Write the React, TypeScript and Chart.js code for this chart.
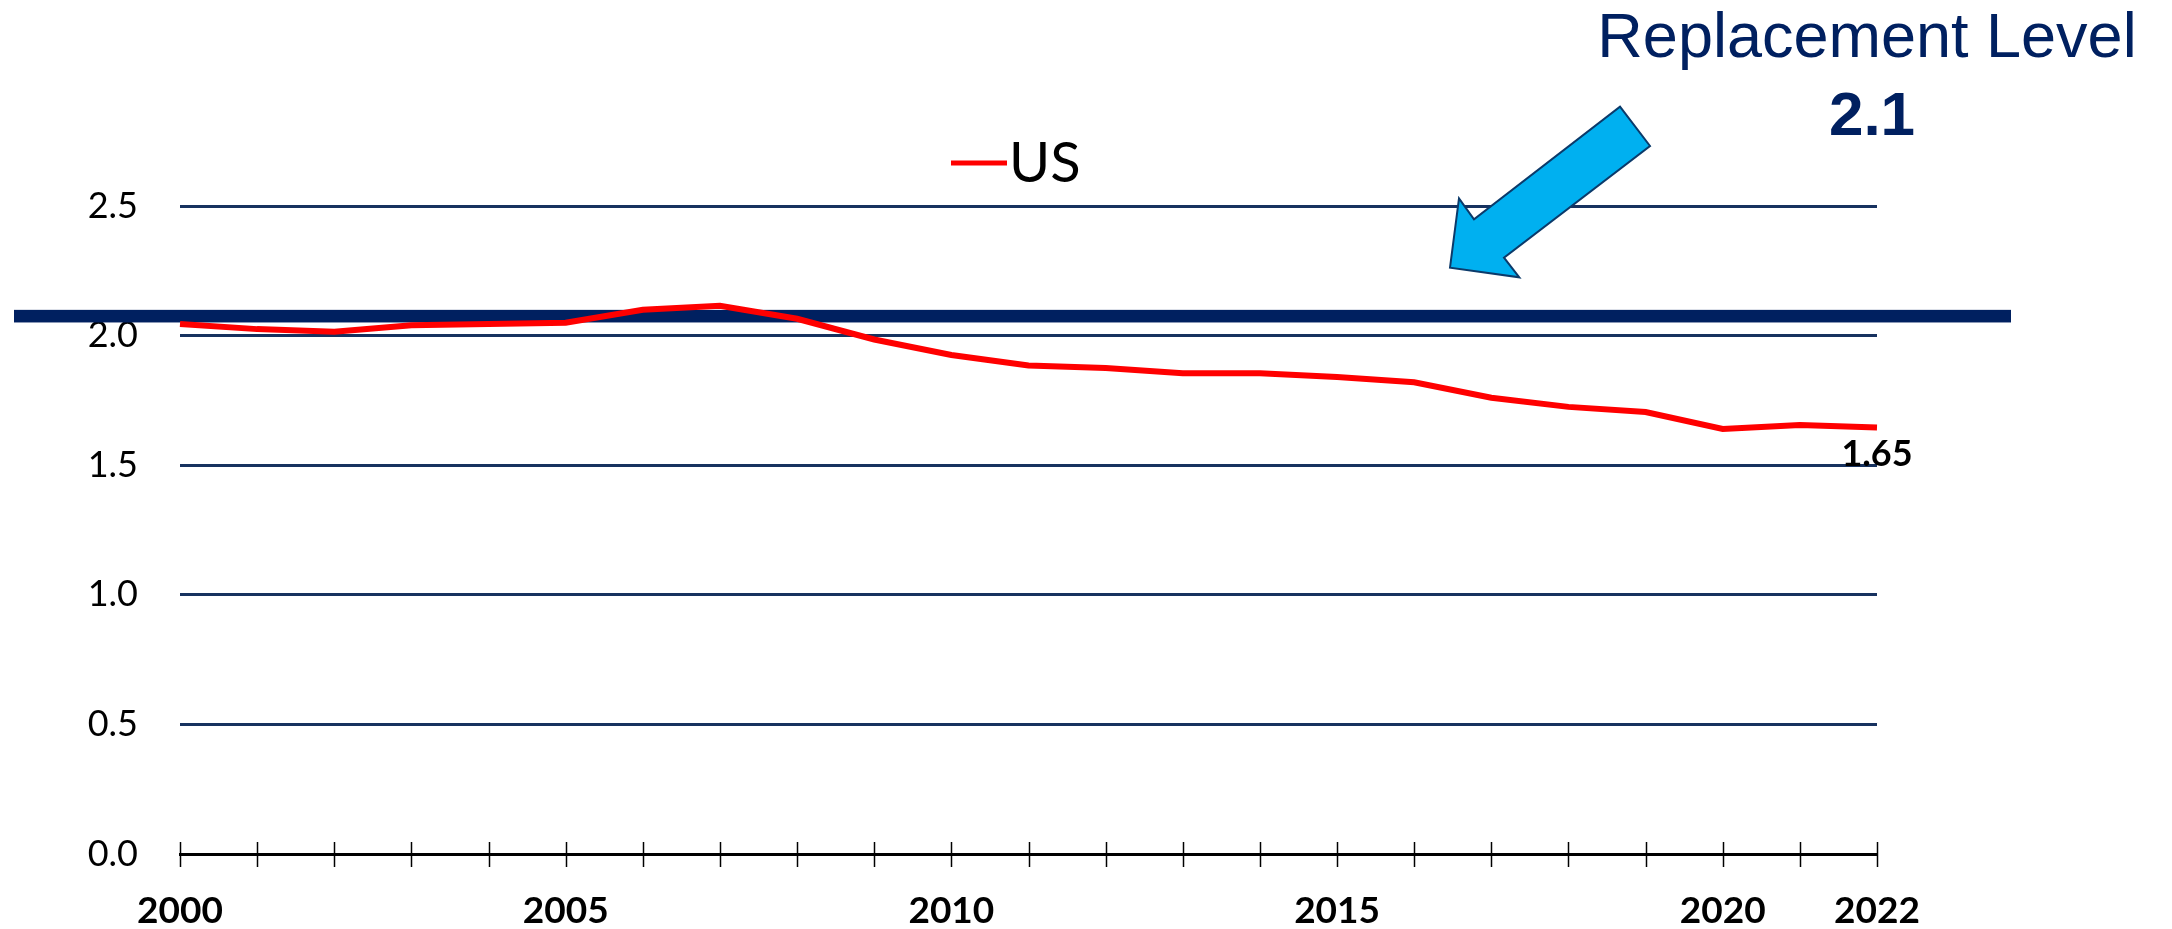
import React, { useEffect, useRef } from "react";
import { Chart, registerables } from "chart.js";

Chart.register(...registerables);

// ---------- data ----------
const years: string[] = [
  "2000", "2001", "2002", "2003", "2004", "2005", "2006", "2007", "2008", "2009", "2010",
  "2011", "2012", "2013", "2014", "2015", "2016", "2017", "2018", "2019", "2020", "2021", "2022",
];
const usFertility: number[] = [
  2.045, 2.025, 2.015, 2.04, 2.045, 2.05, 2.10, 2.115, 2.065, 1.985, 1.925,
  1.885, 1.875, 1.855, 1.855, 1.84, 1.82, 1.76, 1.725, 1.705, 1.64, 1.655, 1.645,
];
const labelledYears: string[] = ["2000", "2005", "2010", "2015", "2020", "2022"];
const yTickValues: number[] = [0, 0.5, 1.0, 1.5, 2.0, 2.5];
const seriesName = "US";
const replacementLineValue = 2.075; // where the thick band is drawn
const replacementTitle = "Replacement Level";
const replacementValueText = "2.1";
const lastValueText = "1.65";

// ---------- styles ----------
const NAVY = "#002060";
const GRID = "#17325F";
const RED = "#FF0000";
const ARROW_FILL = "#00B0F0";
const ARROW_EDGE = "#0B3A6A";

const decorPlugin = {
  id: "decor",
  beforeDatasetsDraw(chart: any) {
    const { ctx } = chart;
    const y = chart.scales.y.getPixelForValue(replacementLineValue);
    ctx.save();
    ctx.fillStyle = NAVY;
    ctx.fillRect(14, y - 6.3, 2011 - 14, 12.6);
    ctx.restore();
  },
  afterDraw(chart: any) {
    const { ctx, chartArea } = chart;
    const xs = chart.scales.x;
    ctx.save();
    // tick marks crossing the x axis
    ctx.strokeStyle = "#000";
    ctx.lineWidth = 1.5;
    years.forEach((_, i) => {
      const x = Math.round(xs.getPixelForValue(i)) + 0.5;
      ctx.beginPath();
      ctx.moveTo(x, chartArea.bottom - 12);
      ctx.lineTo(x, chartArea.bottom + 13);
      ctx.stroke();
    });

    // label of last value
    const meta = chart.getDatasetMeta(0);
    const last = meta.data[meta.data.length - 1];
    ctx.fillStyle = "#000";
    ctx.font = "bold 36px Lato";
    ctx.textAlign = "center";
    ctx.textBaseline = "alphabetic";
    ctx.fillText(lastValueText, last.x, last.y + 38);

    // legend
    ctx.strokeStyle = RED;
    ctx.lineWidth = 5;
    ctx.beginPath();
    ctx.moveTo(951, 163);
    ctx.lineTo(1007, 163);
    ctx.stroke();
    ctx.fillStyle = "#000";
    ctx.font = "56px Lato";
    ctx.textAlign = "left";
    ctx.fillText(chart.data.datasets[0].label, 1009, 182);

    // replacement level annotation
    ctx.fillStyle = NAVY;
    ctx.textAlign = "center";
    ctx.font = "63px 'Liberation Sans'";
    ctx.fillText(replacementTitle, 1867, 57);
    ctx.font = "bold 62px 'Liberation Sans'";
    ctx.fillText(replacementValueText, 1872, 135);

    // arrow
    ctx.beginPath();
    ctx.moveTo(1620, 106.7);
    ctx.lineTo(1650, 146);
    ctx.lineTo(1504, 257.7);
    ctx.lineTo(1519.3, 277.3);
    ctx.lineTo(1450, 267.7);
    ctx.lineTo(1459, 198.3);
    ctx.lineTo(1474, 219.3);
    ctx.closePath();
    ctx.fillStyle = ARROW_FILL;
    ctx.fill();
    ctx.strokeStyle = ARROW_EDGE;
    ctx.lineWidth = 2;
    ctx.lineJoin = "miter";
    ctx.stroke();
    ctx.restore();
  },
};

export default function App() {
  const canvasRef = useRef<HTMLCanvasElement | null>(null);

  useEffect(() => {
    document.body.style.margin = "0";
    document.body.style.overflow = "hidden";
    const canvas = canvasRef.current;
    if (!canvas) return;
    const chart = new Chart(canvas, {
      type: "line",
      data: {
        labels: years,
        datasets: [
          {
            label: seriesName,
            data: usFertility,
            borderColor: RED,
            backgroundColor: RED,
            borderWidth: 6,
            pointRadius: 0,
            tension: 0,
            fill: false,
          },
        ],
      },
      options: {
        animation: false,
        responsive: false,
        devicePixelRatio: 1,
        layout: { padding: { top: 206, right: 295, left: 0, bottom: 0 } },
        plugins: {
          legend: { display: false },
          tooltip: { enabled: false },
          title: { display: false },
        },
        scales: {
          x: {
            type: "category",
            offset: false,
            grid: { display: true, drawOnChartArea: false, drawTicks: false },
            border: { display: true, color: "#000", width: 3 },
            ticks: {
              autoSkip: false,
              maxRotation: 0,
              minRotation: 0,
              padding: 35,
              color: "#000",
              font: { family: "Lato", size: 37, weight: "bold" },
              callback: (_v: any, i: number) =>
                labelledYears.includes(years[i]) ? years[i] : "",
            },
            afterFit: (s: any) => {
              s.height = 75;
            },
          },
          y: {
            min: yTickValues[0],
            max: yTickValues[yTickValues.length - 1],
            afterBuildTicks: (s: any) => {
              s.ticks = yTickValues.map((v) => ({ value: v }));
            },
            ticks: {
              padding: 42,
              color: "#000",
              font: { family: "Lato", size: 36 },
              callback: (v: any) => Number(v).toFixed(1),
            },
            grid: {
              drawTicks: false,
              lineWidth: 3,
              color: (c: any) => (c.tick && c.tick.value === 0 ? "rgba(0,0,0,0)" : GRID),
            },
            border: { display: false },
            afterFit: (s: any) => {
              s.width = 180;
            },
          },
        },
      },
      plugins: [decorPlugin],
    } as any);
    return () => chart.destroy();
  }, []);

  return (
    <div style={{ width: 2172, height: 929, background: "#fff" }}>
      <canvas ref={canvasRef} width={2172} height={929} style={{ display: "block" }} />
    </div>
  );
}
